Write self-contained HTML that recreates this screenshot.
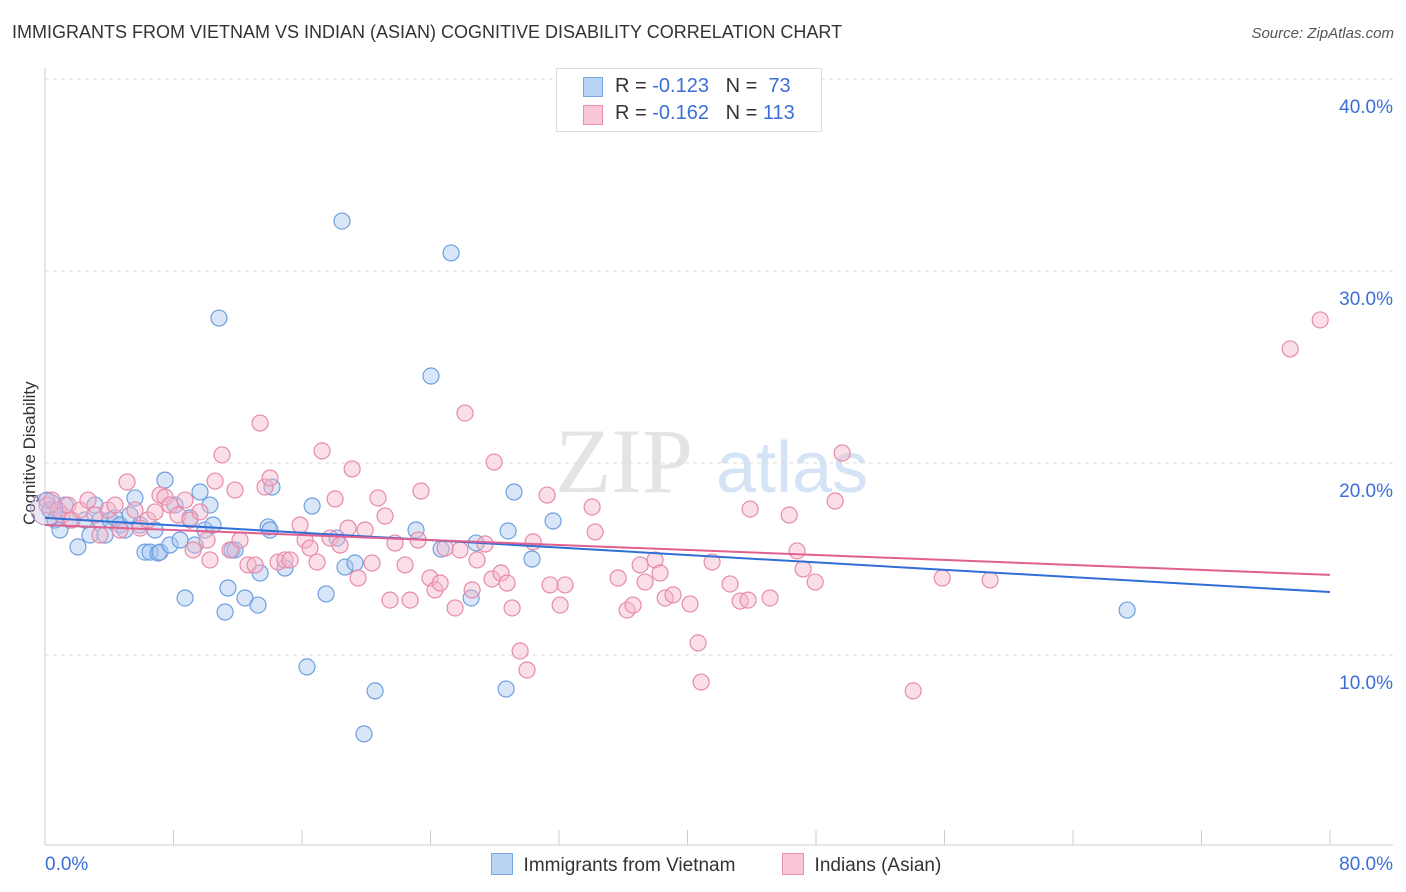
<!DOCTYPE html>
<html><head><meta charset="utf-8"><style>
body{margin:0;background:#fff;font-family:"Liberation Sans",sans-serif;}
#wrap{position:relative;width:1406px;height:892px;overflow:hidden;}
.t{position:absolute;white-space:nowrap;}
</style></head><body>
<div id="wrap">
<div class="t" style="left:12px;top:22px;font-size:18px;color:#333;">IMMIGRANTS FROM VIETNAM VS INDIAN (ASIAN) COGNITIVE DISABILITY CORRELATION CHART</div>
<div class="t" style="right:12px;top:25px;font-size:15px;color:#555;font-style:italic;">Source: ZipAtlas.com</div>
<div class="t" style="left:-40px;top:445px;font-size:17px;color:#333;transform:rotate(-90deg);transform-origin:center;width:140px;text-align:center;">Cognitive Disability</div>
<svg id="plot" width="1406" height="892" style="position:absolute;left:0;top:0"></svg>
<div style="position:absolute;left:556px;top:68px;width:264px;height:62px;border:1px solid #ddd;background:#fff;font-size:20px;color:#333;">
 <div style="position:absolute;left:26px;top:8px;width:18px;height:18px;background:#b9d3f5;border:1px solid #7aa6e0;"></div>
 <div class="t" style="left:58px;top:6px;">R = <span style="color:#3a6fd8">-0.123</span>&nbsp;&nbsp;&nbsp;N = &nbsp;<span style="color:#3a6fd8">73</span></div>
 <div style="position:absolute;left:26px;top:36px;width:18px;height:18px;background:#f9c7d6;border:1px solid #e890ac;"></div>
 <div class="t" style="left:58px;top:33px;">R = <span style="color:#3a6fd8">-0.162</span>&nbsp;&nbsp;&nbsp;N = <span style="color:#3a6fd8">113</span></div>
</div>
<div style="position:absolute;left:491px;top:853px;font-size:19px;color:#333;">
 <span style="display:inline-block;width:20px;height:20px;background:#b9d3f5;border:1px solid #7aa6e0;vertical-align:-4px;"></span>&nbsp; Immigrants from Vietnam</div>
<div style="position:absolute;left:782px;top:853px;font-size:19px;color:#333;">
 <span style="display:inline-block;width:20px;height:20px;background:#f9c7d6;border:1px solid #e890ac;vertical-align:-4px;"></span>&nbsp; Indians (Asian)</div>
</div>
<script>
const xTicks=[0,8,16,24,32,40,48,56,64,72,80];
const yTicks=[10,20,30,40];
const blueX=[.12,.31,.62,.93,1.25,1.56,2.05,2.49,2.8,3.11,3.42,3.74,4.05,4.36,4.67,4.98,5.29,5.6,5.92,6.23,6.54,6.85,7.04,7.16,7.47,7.78,8.09,8.41,8.72,9.03,9.34,9.65,9.96,10.27,10.46,10.83,11.21,11.39,11.64,11.83,12.45,13.26,13.39,13.89,14.01,14.13,14.94,16.31,16.63,17.5,18.18,18.49,18.68,19.3,20.55,19.86,23.1,24.03,24.66,25.28,26.53,26.84,28.71,28.83,29.2,30.32,31.63,67.37];
const blueY=[18.07,17.55,17.03,16.51,17.81,17.03,15.63,17.03,16.25,17.81,17.03,16.25,17.03,17.14,16.77,16.51,17.29,18.18,16.77,15.36,15.36,16.51,15.31,15.36,19.11,15.73,17.81,15.99,12.97,17.14,15.73,18.49,16.51,17.81,16.77,27.55,12.24,13.49,15.47,15.47,12.97,12.6,14.27,16.67,16.51,18.75,14.53,9.38,17.76,13.18,16.09,32.6,14.58,14.79,8.13,5.89,16.51,24.53,15.52,30.94,12.97,15.83,8.23,16.46,18.49,15.0,16.98,12.34];
const pinkX=[.12,.44,.81,1.06,1.43,1.68,2.18,2.68,3.11,3.42,3.92,4.36,4.67,5.11,5.6,5.92,6.41,6.85,7.16,7.47,7.78,8.28,8.72,9.03,9.22,9.65,10.09,10.27,10.59,11.02,11.52,11.83,12.14,12.64,13.08,13.39,13.7,14.01,14.51,14.94,15.26,15.88,16.19,16.5,16.94,17.25,17.75,18.06,18.37,18.87,19.12,19.49,19.93,20.36,20.73,21.17,21.48,21.79,22.42,22.73,23.23,23.41,23.97,24.28,24.6,24.91,25.53,25.84,26.15,26.59,26.9,27.4,27.83,27.96,28.39,28.77,29.08,29.58,30.01,30.39,31.26,31.44,32.07,32.38,34.06,34.25,35.68,36.24,36.61,37.05,37.36,37.98,38.29,38.61,39.1,40.16,40.66,40.85,41.53,42.65,43.28,43.77,43.9,45.14,46.33,46.82,47.2,47.95,49.19,49.63,54.05,55.86,58.84,77.52,79.39];
const pinkY=[17.81,18.07,17.55,17.29,17.81,17.03,17.55,18.07,17.29,16.25,17.55,17.81,16.51,19.01,17.55,16.61,17.03,17.45,18.33,18.23,17.81,17.29,18.07,17.03,15.47,17.45,15.99,14.95,19.06,20.42,15.47,18.59,15.99,14.69,14.69,22.08,18.75,19.22,14.84,14.95,14.95,16.77,15.99,15.57,14.84,20.63,16.09,18.13,15.73,16.61,19.69,14.01,16.51,14.79,18.18,17.24,12.86,15.83,14.69,12.86,15.99,18.54,14.01,13.39,13.75,15.57,12.45,15.47,22.6,13.39,14.95,15.78,13.96,20.05,14.27,13.75,12.45,10.21,9.22,15.89,18.33,13.65,12.6,13.65,17.71,16.41,14.01,12.34,12.6,14.69,13.8,14.95,14.27,12.97,13.13,12.66,10.63,8.59,14.84,13.7,12.81,12.86,17.6,12.97,17.29,15.42,14.48,13.8,18.02,20.52,8.13,14.01,13.91,25.94,27.45];
const blueTrend=[17.14,13.28];
const pinkTrend=[16.77,14.17];
const X=v=>45+v*1285/80;
const Y=v=>847-v*19.2;
const svg=document.getElementById('plot');
const NS='http://www.w3.org/2000/svg';
function mk(tag,attrs){const e=document.createElementNS(NS,tag);for(const k in attrs)e.setAttribute(k,attrs[k]);svg.appendChild(e);return e;}
// watermark
let w=mk('text',{x:555,y:492,'font-size':92,fill:'#e4e4e4','font-family':'Liberation Serif, serif'});w.textContent='ZIP';


let w2=mk('text',{x:716,y:492,'font-size':72,fill:'#d5e3f6','font-family':'Liberation Sans, sans-serif'});w2.textContent='atlas';


yTicks.forEach(t=>{
 const g=mk('line',{x1:45,x2:1393,y1:Y(t),y2:Y(t),stroke:'#ddd','stroke-dasharray':'4,4'});
 
 
 const l=mk('text',{x:1393,y:Y(t)+34,'text-anchor':'end','font-size':19,fill:'#3a6fd8'});l.textContent=t.toFixed(1)+'%';
 
 
});
const ax=mk('line',{x1:45,x2:45,y1:68,y2:845,stroke:'#ccc'});


const bx=mk('line',{x1:45,x2:1393,y1:845,y2:845,stroke:'#ccc'});


xTicks.forEach(t=>{
 const k=mk('line',{x1:X(t),x2:X(t),y1:830,y2:845,stroke:'#ccc'});
 
 
});
[[0,45,'start'],[80,1393,'end']].forEach(([v,x,a])=>{
 const l=mk('text',{x:x,y:870,'text-anchor':a,'font-size':19,fill:'#3a6fd8'});l.textContent=v.toFixed(1)+'%';
 
 
});
function pts(xs,ys,fill,stroke,name){
 xs.forEach((x,i)=>{
  const c=mk('circle',{cx:X(x),cy:Y(ys[i]),r:8,fill:fill,'fill-opacity':0.45,stroke:stroke,'stroke-width':1.2});
  
  
 });
}
pts(blueX,blueY,'#a9c8f0','#6f9fe0','vietnam-point');
pts(pinkX,pinkY,'#f5b8cc','#e88aa8','indian-point');
const big=mk('circle',{cx:X(0.1),cy:Y(17.6),r:16,fill:'#c9b8e0','fill-opacity':0.35,stroke:'#b49ad6'});


const tb=mk('line',{x1:X(0),y1:Y(blueTrend[0]),x2:X(80),y2:Y(blueTrend[1]),stroke:'#2f6fd6','stroke-width':2});


const tp=mk('line',{x1:X(0),y1:Y(pinkTrend[0]),x2:X(80),y2:Y(pinkTrend[1]),stroke:'#e06090','stroke-width':2});


</script>
</body></html>
